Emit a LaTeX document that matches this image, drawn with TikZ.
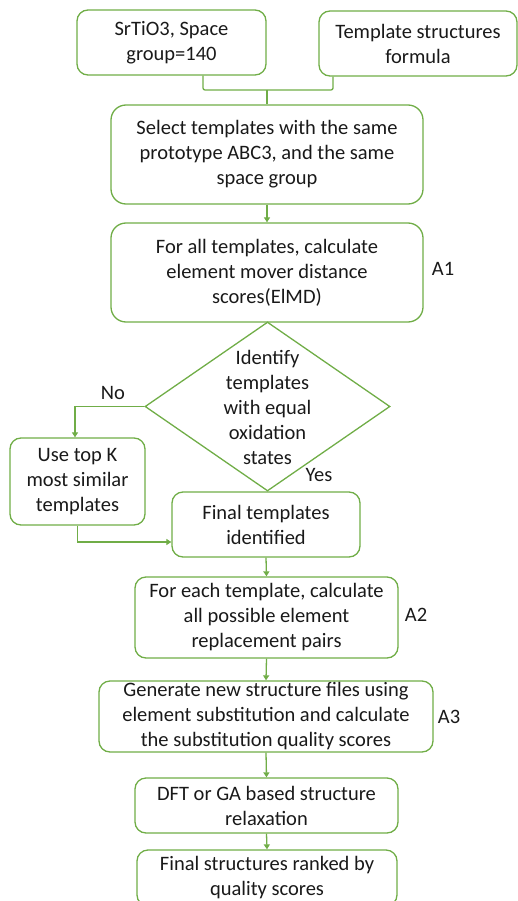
\documentclass[tikz,border=0pt]{standalone}
\usepackage{fontspec}
\setmainfont{Carlito}
\usetikzlibrary{shapes.geometric,arrows.meta,calc}
\definecolor{grn}{HTML}{70AD47}
\begin{document}
\begin{tikzpicture}[x=1pt,y=-1pt,
  box/.style={draw=grn, line width=1.3pt, rounded corners=11pt, align=center, font=\fontsize{20.5}{25}\selectfont, inner sep=0pt, text=black!90},
  lbl/.style={font=\fontsize{20.5}{25}\selectfont, inner sep=0pt, text=black!90},
  conn/.style={draw=grn, line width=1.3pt},
  arr/.style={conn, -{Triangle[width=6pt,length=5pt]}}]
\useasboundingbox (0,0) rectangle (518,901);
\node[box, minimum width=189pt, minimum height=65pt] (src) at (171.5,42.5) {SrTiO3, Space\\group=140};
\node[box, minimum width=198pt, minimum height=65pt] (tpl) at (418,43.5) {Template structures\\formula};
\node[box, rounded corners=15pt, minimum width=312pt, minimum height=99pt] (sel) at (267,154.5) {Select templates with the same\\prototype ABC3, and the same\\space group};
\node[box, rounded corners=15pt, minimum width=312pt, minimum height=99pt] (a1) at (267,272.5) {For all templates, calculate\\element mover distance\\scores(ElMD)};
\node[diamond, draw=grn, line width=1.3pt, minimum width=245pt, minimum height=169pt, inner sep=0pt] (dia) at (267.5,406.5) {};
\node[lbl, align=center] (diat) at (267.5,407) {Identify\\templates\\with equal\\oxidation\\states};
\node[box, minimum width=135pt, minimum height=87pt] (usek) at (77.5,481.5) {Use top K\\most similar\\templates};
\node[box, minimum width=188pt, minimum height=65pt] (fin) at (266,524.5) {Final templates\\identified};
\node[box, minimum width=263pt, minimum height=81pt] (each) at (266.5,617.5) {For each template, calculate\\all possible element\\replacement pairs};
\node[box, minimum width=334pt, minimum height=71pt] (gen) at (266,716.5) {Generate new structure files using\\element substitution and calculate\\the substitution quality scores};
\node[box, minimum width=263pt, minimum height=55pt] (dft) at (266.5,805.5) {DFT or GA based structure\\relaxation};
\node[box, minimum width=260pt, minimum height=56pt] (last) at (267,878) {Final structures ranked by\\quality scores};
\node[lbl] (no) at (113,393) {No};
\node[lbl] (yes) at (319,475) {Yes};
\node[lbl] (la1) at (443,269) {A1};
\node[lbl] (la2) at (416,615) {A2};
\node[lbl] (la3) at (449,717) {A3};
\coordinate (j) at (267,90);
\draw[conn, rounded corners=2pt] ($(src.south)+(31.5,0)$) |- (j) -| ($(tpl.south)+(-85,0)$);
\draw[conn] (j) -- (sel.north);
\draw[arr] (sel.south) -- (a1.north);
\draw[arr] (dia.west) -| ($(usek.north)+(-2.5,0)$);
\draw[arr] (usek.south) |- ($(fin.west)+(0,17.5)$);
\draw[arr] (fin.south) -- (each.north);
\draw[arr] (each.south) -- (gen.north);
\draw[arr] (gen.south) -- (dft.north);
\draw[arr] (dft.south) -- (last.north);
\end{tikzpicture}
\end{document}
